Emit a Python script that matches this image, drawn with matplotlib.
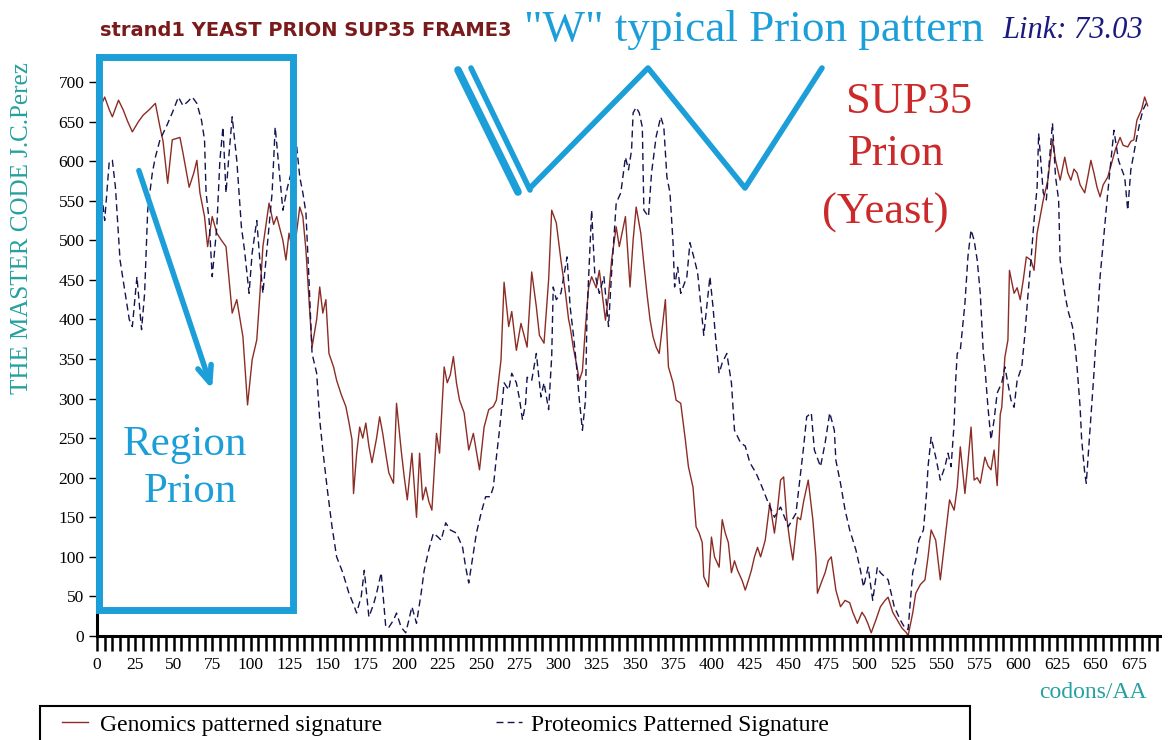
import matplotlib
matplotlib.use("Agg")
import matplotlib.pyplot as plt
from matplotlib.lines import Line2D
from matplotlib.patches import Rectangle
from matplotlib.ticker import MultipleLocator

plt.rcParams["font.family"] = ["Liberation Serif", "DejaVu Serif"]

# genomics patterned signature (codon, value)
gen_x = [0, 3, 5, 8, 10, 14, 17, 20, 23, 27, 30, 34, 38, 41, 43, 46, 49, 54, 56, 60,
         63, 65, 67, 70, 72, 75, 78, 81, 84, 86, 88, 91, 95, 98, 101, 104, 106, 108, 112, 115,
         117, 121, 123, 125, 128, 132, 134, 136, 138, 140, 143, 145, 147, 149, 151, 154, 156, 159, 162, 164,
         166, 167, 169, 171, 173, 175, 177, 179, 182, 184, 186, 188, 190, 193, 195, 198, 200, 202, 205, 208,
         210, 212, 214, 216, 218, 221, 223, 226, 228, 230, 232, 234, 236, 239, 242, 245, 249, 252, 255, 258,
         260, 263, 265, 268, 270, 273, 276, 280, 283, 286, 288, 291, 294, 296, 299, 302, 305, 307, 308, 310,
         312, 314, 316, 318, 320, 322, 325, 327, 331, 333, 335, 338, 340, 344, 347, 349, 351, 354, 356, 358,
         360, 362, 364, 366, 368, 370, 372, 375, 377, 380, 383, 385, 388, 390, 392, 394, 395, 398, 400, 402,
         405, 407, 409, 411, 413, 415, 417, 420, 422, 424, 426, 428, 430, 432, 435, 438, 441, 443, 445, 447,
         449, 451, 453, 456, 458, 460, 463, 466, 468, 469, 472, 474, 476, 478, 481, 484, 487, 490, 492, 495,
         498, 500, 502, 504, 507, 510, 513, 515, 518, 521, 524, 527, 528, 531, 533, 536, 539, 541, 543, 546,
         549, 552, 555, 558, 560, 562, 565, 567, 569, 571, 573, 575, 578, 580, 582, 584, 586, 588, 589, 591,
         593, 594, 597, 599, 601, 603, 605, 608, 610, 612, 614, 616, 619, 622, 624, 627, 630, 632, 634, 636,
         638, 640, 643, 645, 647, 649, 651, 653, 655, 658, 661, 663, 666, 668, 671, 673, 675, 677, 680, 682,
         684]
gen_y = [680, 672, 681, 665, 656, 677, 665, 650, 637, 650, 658, 665, 673, 643, 625, 572, 627, 630, 610, 567,
         585, 601, 560, 530, 492, 530, 509, 500, 492, 450, 408, 425, 378, 292, 349, 374, 430, 492, 547, 520,
         530, 500, 475, 509, 480, 542, 530, 488, 425, 365, 400, 441, 408, 425, 357, 340, 323, 305, 290, 270,
         248, 180, 230, 264, 250, 269, 240, 219, 250, 277, 256, 230, 206, 193, 294, 235, 201, 172, 231, 150,
         231, 172, 188, 170, 159, 256, 231, 340, 320, 330, 353, 320, 298, 282, 235, 256, 210, 264, 286, 290,
         298, 349, 447, 391, 410, 361, 395, 365, 460, 416, 380, 370, 450, 538, 522, 475, 433, 400, 391, 365,
         345, 323, 335, 391, 440, 454, 440, 462, 399, 430, 475, 517, 492, 530, 441, 500, 542, 509, 470, 433,
         400, 378, 365, 357, 390, 425, 340, 320, 298, 294, 248, 214, 188, 138, 130, 118, 75, 62, 125, 100,
         87, 147, 130, 118, 80, 95, 83, 70, 58, 70, 83, 100, 112, 100, 121, 168, 130, 160, 197, 201,
         150, 120, 96, 150, 147, 170, 197, 147, 100, 54, 70, 80, 95, 100, 58, 37, 45, 42, 30, 16,
         30, 24, 15, 4, 20, 37, 45, 49, 30, 20, 10, 4, 0, 29, 54, 65, 71, 100, 134, 121,
         71, 121, 172, 159, 188, 239, 180, 220, 264, 197, 200, 193, 226, 215, 210, 235, 190, 280, 289, 352,
         374, 462, 433, 440, 425, 450, 479, 475, 462, 509, 530, 551, 576, 627, 601, 576, 605, 585, 576, 590,
         585, 570, 560, 580, 601, 585, 567, 555, 570, 580, 601, 615, 630, 620, 618, 625, 627, 652, 665, 681,
         670]

# proteomics patterned signature (codon, value)
pro_x = [0, 3, 5, 8, 10, 12, 15, 17, 19, 21, 23, 26, 29, 31, 33, 36, 38, 41, 45, 49,
         53, 56, 59, 62, 65, 68, 70, 71, 73, 75, 78, 80, 82, 84, 86, 88, 91, 94, 96, 99,
         101, 104, 106, 108, 111, 114, 116, 118, 121, 124, 127, 130, 132, 134, 136, 138, 140, 143, 145, 147,
         150, 153, 156, 160, 164, 167, 169, 172, 174, 177, 180, 182, 185, 188, 190, 193, 195, 198, 201, 203,
         205, 208, 211, 213, 216, 219, 222, 224, 227, 230, 234, 238, 240, 242, 245, 247, 250, 253, 256, 258,
         260, 262, 264, 265, 268, 270, 273, 275, 277, 279, 280, 283, 286, 289, 291, 294, 296, 297, 299, 302,
         306, 308, 310, 312, 314, 316, 318, 319, 322, 324, 327, 330, 333, 335, 338, 341, 344, 346, 348, 349,
         351, 353, 355, 356, 359, 361, 364, 367, 369, 371, 373, 375, 376, 378, 380, 384, 386, 389, 391, 393,
         395, 399, 401, 403, 405, 407, 410, 413, 415, 419, 422, 425, 429, 433, 437, 441, 445, 450, 455, 458,
         460, 462, 465, 467, 471, 474, 477, 480, 481, 484, 487, 490, 494, 497, 499, 502, 505, 508, 510, 515,
         519, 523, 526, 528, 531, 533, 535, 538, 540, 541, 543, 546, 549, 552, 554, 556, 558, 559, 560, 562,
         565, 567, 569, 571, 573, 575, 577, 578, 580, 582, 584, 586, 589, 591, 595, 597, 599, 602, 604, 606,
         608, 610, 612, 613, 616, 618, 620, 622, 624, 626, 627, 630, 632, 635, 637, 638, 640, 641, 643, 644,
         646, 647, 649, 650, 651, 653, 655, 658, 660, 662, 665, 667, 669, 671, 673, 675, 677, 679, 681, 683]
pro_y = [520, 560, 525, 600, 601, 567, 475, 450, 425, 400, 391, 454, 387, 433, 538, 585, 605, 627, 643, 661,
         681, 670, 675, 681, 673, 652, 627, 560, 525, 454, 517, 601, 643, 560, 610, 656, 601, 517, 488, 433,
         484, 525, 475, 433, 497, 560, 643, 601, 538, 567, 590, 618, 580, 560, 535, 450, 357, 332, 273, 235,
         184, 138, 100, 80, 54, 40, 29, 50, 83, 24, 40, 54, 80, 11, 11, 20, 29, 11, 4, 20,
         37, 16, 54, 83, 109, 130, 125, 121, 143, 134, 130, 112, 87, 67, 105, 130, 155, 176, 176, 188,
         226, 260, 298, 320, 311, 332, 320, 300, 273, 294, 327, 323, 357, 302, 320, 286, 353, 441, 425, 433,
         479, 416, 383, 345, 298, 260, 298, 408, 538, 459, 433, 454, 391, 459, 547, 560, 605, 589, 614, 661,
         668, 661, 643, 538, 530, 585, 631, 656, 643, 580, 560, 497, 441, 466, 433, 454, 497, 475, 459, 420,
         380, 454, 416, 370, 332, 345, 357, 320, 260, 244, 240, 219, 206, 188, 168, 150, 163, 138, 155, 206,
         239, 277, 282, 235, 214, 244, 282, 260, 222, 193, 159, 134, 109, 83, 62, 87, 45, 87, 80, 71,
         37, 20, 10, 8, 80, 96, 121, 134, 180, 214, 251, 226, 197, 214, 231, 214, 269, 323, 357, 361,
         420, 480, 513, 500, 475, 433, 357, 340, 289, 248, 273, 307, 320, 340, 298, 289, 323, 340, 380, 430,
         475, 525, 567, 635, 560, 551, 601, 648, 580, 551, 475, 433, 412, 391, 361, 340, 289, 248, 206, 193,
         248, 277, 332, 365, 391, 454, 497, 560, 600, 639, 601, 590, 580, 538, 589, 610, 631, 650, 665, 673]

W, H = 1171, 740
blue = "#1c9fd8"
teal = "#26a0a0"

fig = plt.figure(figsize=(W / 100, H / 100), dpi=100)
ax = fig.add_axes([97 / W, 1 - 636 / H, (1160 - 97) / W, (636 - 82) / H])

l1, = ax.plot(gen_x, gen_y, color="#8c2d25", lw=1.0)
l2, = ax.plot(pro_x, pro_y, color="#141450", lw=1.0, linestyle=(0, (5, 3)))

ax.set_xlim(0, 692)
ax.set_ylim(0, 700)
ax.xaxis.set_major_locator(MultipleLocator(25))
ax.xaxis.set_minor_locator(MultipleLocator(5))
ax.yaxis.set_major_locator(MultipleLocator(50))
ax.tick_params(axis="x", which="both", direction="out", length=11, width=1.8, labelsize=12.5, pad=4)
ax.tick_params(axis="y", length=6, width=1, labelsize=12.5, pad=3)
for s in ["top", "right"]:
    ax.spines[s].set_visible(False)
ax.spines["left"].set_linewidth(2.2)
ax.spines["bottom"].set_linewidth(2.2)

# texts
def px(x, y):
    return x / W, 1 - y / H

fig.text(*px(100, 31), "strand1 YEAST PRION SUP35 FRAME3", family="DejaVu Sans",
         fontweight="bold", fontsize=14, color="#7a1a1a", va="center", ha="left")
fig.text(*px(754, 30), "\"W\" typical Prion pattern", fontsize=32.5, color=blue, va="center", ha="center")
fig.text(*px(1073, 30), "Link: 73.03", fontsize=22, style="italic", color="#1a1a80", va="center", ha="center")
fig.text(*px(22, 228), "THE MASTER CODE J.C.Perez", fontsize=18, color=teal, rotation=90,
         va="center", ha="center")
fig.text(*px(1093, 692), "codons/AA", fontsize=17, color=teal, va="center", ha="center")
red = "#cc2a2a"
fig.text(*px(846, 113), "SUP35", fontsize=32, color=red, va="baseline", ha="left")
fig.text(*px(848, 165), "Prion", fontsize=32, color=red, va="baseline", ha="left")
fig.text(*px(822, 224), "(Yeast)", fontsize=32, color=red, va="baseline", ha="left")
fig.text(*px(185, 455), "Region", fontsize=31, color=blue, va="baseline", ha="center")
fig.text(*px(190, 502), "Prion", fontsize=31, color=blue, va="baseline", ha="center")

# blue annotations
box = [(99, 57), (293, 57), (293, 610), (99, 610), (99, 57)]
fig.add_artist(Line2D([px(*p)[0] for p in box], [px(*p)[1] for p in box],
                      color=blue, lw=5, solid_joinstyle="miter"))
wpath = [(530, 188), (648, 68), (745, 188), (822, 68)]
fig.add_artist(Line2D([px(*p)[0] for p in wpath], [px(*p)[1] for p in wpath],
                      color=blue, lw=4, solid_capstyle="round"))
fig.add_artist(Line2D([px(458, 70)[0], px(518, 192)[0]], [px(458, 70)[1], px(518, 192)[1]],
                      color=blue, lw=5.5, solid_capstyle="round"))
fig.add_artist(Line2D([px(471, 68)[0], px(530, 190)[0]], [px(471, 68)[1], px(530, 190)[1]],
                      color=blue, lw=4, solid_capstyle="round"))
fig.add_artist(plt.Annotation("", xy=px(213, 392), xytext=px(138, 168),
                              xycoords="figure fraction", textcoords="figure fraction",
                              arrowprops=dict(arrowstyle="->,head_length=1.2,head_width=0.5",
                                              color=blue, lw=4)))

# legend: frame drawn separately, running off the bottom edge
fig.add_artist(Rectangle(px(40, 760), 930 / W, 54 / H, transform=fig.transFigure,
                         facecolor="none", edgecolor="black", lw=1.5))
fig.legend([l1], ["Genomics patterned signature"], loc="upper left", bbox_to_anchor=px(62, 714),
           frameon=False, fontsize=17, handlelength=1.1, handletextpad=0.5, borderpad=0, borderaxespad=0)
fig.legend([l2], ["Proteomics Patterned Signature"], loc="upper left", bbox_to_anchor=px(496, 714),
           frameon=False, fontsize=17, handlelength=1.1, handletextpad=0.4, borderpad=0, borderaxespad=0)

fig.savefig("out.png", dpi=100)
